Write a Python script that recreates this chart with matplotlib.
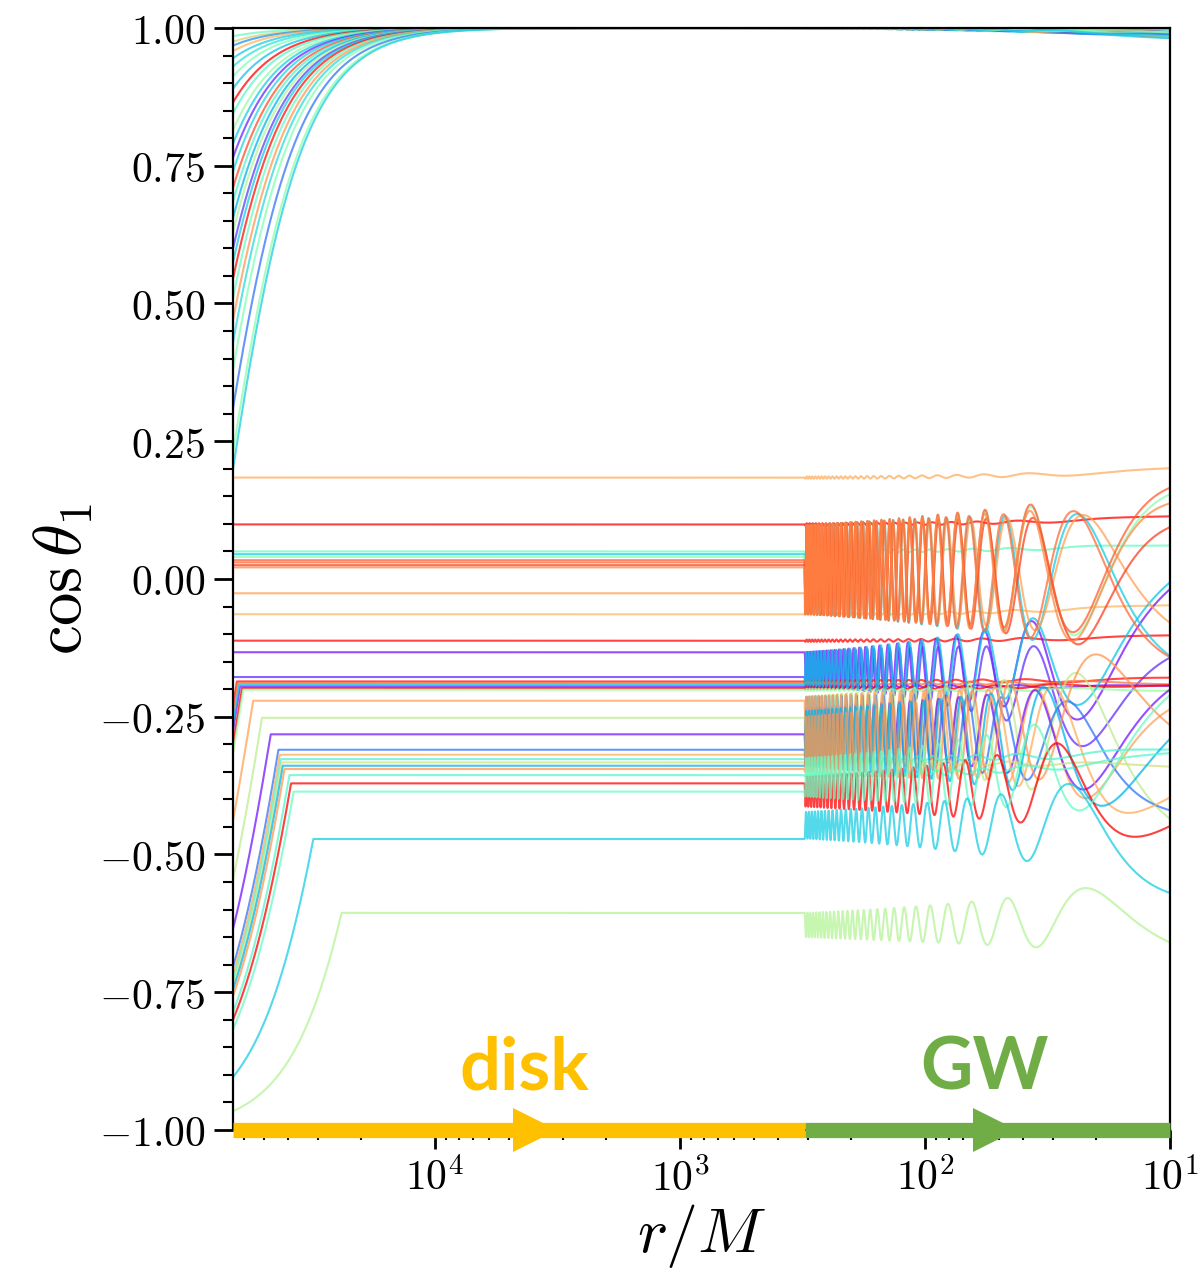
import numpy as np
import matplotlib
matplotlib.use('Agg')
import matplotlib.pyplot as plt
from matplotlib.ticker import MultipleLocator, LogLocator, NullFormatter

plt.rcParams['mathtext.fontset'] = 'cm'

# ─── radii / evolution constants ───────────────────────────────────────────────
R_MAX = 6.676e4      # outer edge of the plot
R_GW = 310.0         # disk -> GW hand-over radius
R_MIN = 10.0
ALIGN_SLOPE = 1.3    # d log tan(theta/2) / d log r while the disk torques the spin
OMEGA = 0.0305       # precession phase per unit of r^1.5

# ─── spins that end up aligned with the disk (cos theta_1 -> 1) ────────────────
up_start = [0.985, 0.975, 0.968, 0.958, 0.945, 0.930, 0.912, 0.890, 0.865, 0.845,
            0.815, 0.790, 0.765, 0.740, 0.710, 0.685, 0.655, 0.630, 0.600, 0.575,
            0.545, 0.510, 0.470, 0.430, 0.380, 0.310, 0.230, 0.200]
up_color = [0.45, 0.70, 0.20, 0.75, 0.30, 0.35, 0.50, 0.28, 1.00, 0.42,
            0.55, 0.30, 0.05, 0.32, 0.90, 0.40, 0.25, 0.60, 0.08, 0.30,
            0.98, 0.45, 0.80, 0.33, 0.50, 0.15, 0.52, 0.30]
up_end = [0.995, 0.992, 0.988, 0.994, 0.986, 0.990, 0.993, 0.985, 0.991, 0.989,
          0.994, 0.987, 0.992, 0.990, 0.986, 0.993, 0.988, 0.991, 0.995, 0.985,
          0.990, 0.992, 0.987, 0.994, 0.989, 0.986, 0.991, 0.988]
up_phase = [0.3, 1.9, 4.0, 2.5, 5.1, 0.9, 3.3, 1.2, 4.6, 2.0,
            5.6, 0.5, 3.8, 1.6, 2.9, 4.3, 0.1, 5.3, 2.2, 3.6,
            1.0, 4.9, 2.7, 0.7, 3.1, 5.8, 1.4, 4.1]

# ─── spins frozen at a misaligned plateau before the GW phase ──────────────────
lo_start = [0.184, 0.099, 0.050, -0.112, -0.064, -0.133, -0.178,
            -0.231, -0.246, -0.276, -0.301, -0.317, -0.262,
            -0.438, -0.545, -0.635, -0.704, -0.717, -0.727, -0.736,
            -0.745, -0.757, -0.786, -0.800, -0.817, -0.904, -0.966,
            0.045, 0.040, -0.026, 0.030, 0.025, 0.034, 0.021]
lo_plateau = [0.184, 0.099, 0.050, -0.112, -0.064, -0.133, -0.178,
              -0.186, -0.189, -0.195, -0.198, -0.201, -0.192,
              -0.221, -0.252, -0.282, -0.310, -0.319, -0.327, -0.333,
              -0.339, -0.345, -0.356, -0.371, -0.386, -0.472, -0.606,
              0.045, 0.040, -0.026, 0.030, 0.025, 0.034, 0.021]
lo_color = [0.76, 1.00, 0.45, 0.99, 0.74, 0.02, 0.06,
            0.98, 0.85, 0.03, 1.00, 0.55, 0.28,
            0.78, 0.62, 0.03, 0.15, 0.76, 0.40, 0.66,
            0.25, 0.80, 0.42, 1.00, 0.45, 0.30, 0.60,
            0.30, 0.52, 0.78, 0.86, 0.92, 0.88, 0.82]
# nutation band when the GW phase starts (centre, half-width)
lo_mid0 = [0.184, 0.099, 0.050, -0.112, -0.064, -0.163, -0.163,
           -0.186, -0.189, -0.195, -0.198, -0.201, -0.163,
           -0.268, -0.268, -0.270, -0.268, -0.268, -0.327, -0.333,
           -0.290, -0.300, -0.356, -0.386, -0.360, -0.447, -0.628,
           0.017, 0.017, 0.017, 0.017, 0.017, 0.017, 0.017]
lo_amp0 = [0.002, 0.002, 0.002, 0.002, 0.002, 0.030, 0.030,
           0.002, 0.002, 0.002, 0.002, 0.002, 0.030,
           0.054, 0.054, 0.035, 0.054, 0.054, 0.003, 0.003,
           0.050, 0.050, 0.003, 0.027, 0.035, 0.024, 0.022,
           0.080, 0.080, 0.080, 0.080, 0.080, 0.080, 0.080]
# nutation band and phase at r = 10M
lo_mid1 = [0.197, 0.112, 0.062, -0.105, -0.048, -0.150, -0.250,
           -0.183, -0.188, -0.196, -0.190, -0.200, -0.120,
           -0.320, -0.300, -0.300, -0.330, -0.320, -0.314, -0.339,
           -0.300, -0.220, -0.323, -0.360, -0.310, -0.450, -0.610,
           -0.020, 0.020, 0.000, -0.010, -0.020, 0.030, 0.000]
lo_amp1 = [0.004, 0.003, 0.003, 0.003, 0.003, 0.150, 0.130,
           0.004, 0.004, 0.003, 0.004, 0.003, 0.130,
           0.120, 0.150, 0.130, 0.090, 0.130, 0.008, 0.004,
           0.140, 0.140, 0.008, 0.120, 0.120, 0.120, 0.075,
           0.140, 0.140, 0.120, 0.140, 0.130, 0.140, 0.140]
lo_phase1 = [0.0, 1.0, 2.0, 0.5, 1.5, -0.5, -0.6,
             0.3, 2.5, 1.0, 4.0, 3.0, -0.5,
             -0.8, 2.7, -0.7, 3.1, -2.2, 1.0, 2.0,
             -1.5, 1.9, 0.5, -2.4, -0.6, 3.1, 2.3,
             2.6, -0.3, 2.3, 2.8, -0.5, -0.25, -0.2]

yticks = [-1.0, -0.75, -0.5, -0.25, 0.0, 0.25, 0.5, 0.75, 1.0]
xticks = [1e1, 1e2, 1e3, 1e4]
xtick_labels = [r'$10^{1}$', r'$10^{2}$', r'$10^{3}$', r'$10^{4}$']

U_MAX, U_GW, U_MIN = np.log10(R_MAX), np.log10(R_GW), np.log10(R_MIN)
u_disk = np.linspace(U_MAX, U_GW, 1500)
u_gw = np.linspace(U_GW, U_MIN, 24000)[1:]
r_all = 10 ** np.concatenate([u_disk, u_gw])


def disk_branch(c_start, c_cap):
    # tan(theta/2) shrinks as a power of r until the disk stops torquing
    q = np.tan(np.arccos(c_start) / 2) * 10 ** (-ALIGN_SLOPE * (U_MAX - u_disk))
    return np.minimum(np.cos(2 * np.arctan(q)), c_cap)


def gw_branch(c0, mid0, amp0, mid1, amp1, ph1):
    r = 10 ** u_gw
    t = np.log10(R_GW / r) / np.log10(R_GW / R_MIN)
    ph0 = np.arccos(np.clip((c0 - mid0) / amp0, -1, 1))
    span = R_GW ** 1.5 - R_MIN ** 1.5
    n = np.round((OMEGA * span - (ph1 - ph0)) / (2 * np.pi))
    om = (ph1 - ph0 + 2 * np.pi * n) / span
    phase = ph0 + om * (R_GW ** 1.5 - r ** 1.5)
    mid = mid0 + (mid1 - mid0) * t ** 2
    amp = amp0 * (amp1 / amp0) ** t
    return mid + amp * np.cos(phase)


cmap = plt.get_cmap('rainbow')
fig = plt.figure(figsize=(12.03, 12.83), dpi=100)
ax = fig.add_axes([0.1937, 0.1193, 0.9726 - 0.1937, 0.9782 - 0.1193])

for cs, col, c_end, ph in zip(up_start, up_color, up_end, up_phase):
    disk = disk_branch(cs, 1.0)
    c0 = disk[-1]
    gw = gw_branch(c0, c0 - 0.0005, 0.0005, c_end, 0.004, ph)
    ax.plot(r_all, np.concatenate([disk, gw]), color=cmap(col), lw=1.5, alpha=0.75)

for i in range(len(lo_start)):
    disk = disk_branch(lo_start[i], lo_plateau[i])
    gw = gw_branch(lo_plateau[i], lo_mid0[i], lo_amp0[i],
                   lo_mid1[i], lo_amp1[i], lo_phase1[i])
    ax.plot(r_all, np.concatenate([disk, gw]), color=cmap(lo_color[i]),
            lw=1.5, alpha=0.75)

ax.set_xscale('log')
ax.set_xlim(R_MAX, R_MIN)
ax.set_ylim(-1, 1)

ax.set_yticks(yticks)
ax.set_yticklabels([rf'${v:.2f}$' for v in yticks])
ax.yaxis.set_minor_locator(MultipleLocator(0.05))
ax.set_xticks(xticks)
ax.set_xticklabels(xtick_labels)
ax.xaxis.set_minor_locator(LogLocator(base=10, subs=np.arange(2, 10)))
ax.xaxis.set_minor_formatter(NullFormatter())

ax.tick_params(which='major', direction='out', length=14, width=2, labelsize=30, pad=6)
ax.tick_params(which='minor', direction='out', length=7, width=1.5)
for spine in ax.spines.values():
    spine.set_linewidth(1.6)

ax.set_ylabel(r'$\cos\theta_1$', fontsize=48, labelpad=2)
ax.set_xlabel(r'$r/M$', fontsize=46, labelpad=2)

# phase arrows along the bottom edge
trans = ax.get_xaxis_transform()
disk_col, gw_col = '#FFC000', '#70AD47'
ax.plot([R_MAX, R_GW], [0, 0], color=disk_col, lw=11, solid_capstyle='butt',
        transform=trans, clip_on=False, zorder=5)
ax.plot([R_GW, R_MIN], [0, 0], color=gw_col, lw=11, solid_capstyle='butt',
        transform=trans, clip_on=False, zorder=5)
ax.plot([3900], [0], marker='>', ms=31, mew=0, color=disk_col,
        transform=trans, clip_on=False, zorder=6)
ax.plot([52], [0], marker='>', ms=31, mew=0, color=gw_col,
        transform=trans, clip_on=False, zorder=6)
ax.text(4300, 0.025, 'disk', color=disk_col, fontsize=52, fontweight='bold',
        family='Lato', ha='center', va='bottom', transform=trans)
ax.text(57, 0.025, 'GW', color=gw_col, fontsize=52, fontweight='bold',
        family='Lato', ha='center', va='bottom', transform=trans)

fig.savefig('out.png', dpi=100)
